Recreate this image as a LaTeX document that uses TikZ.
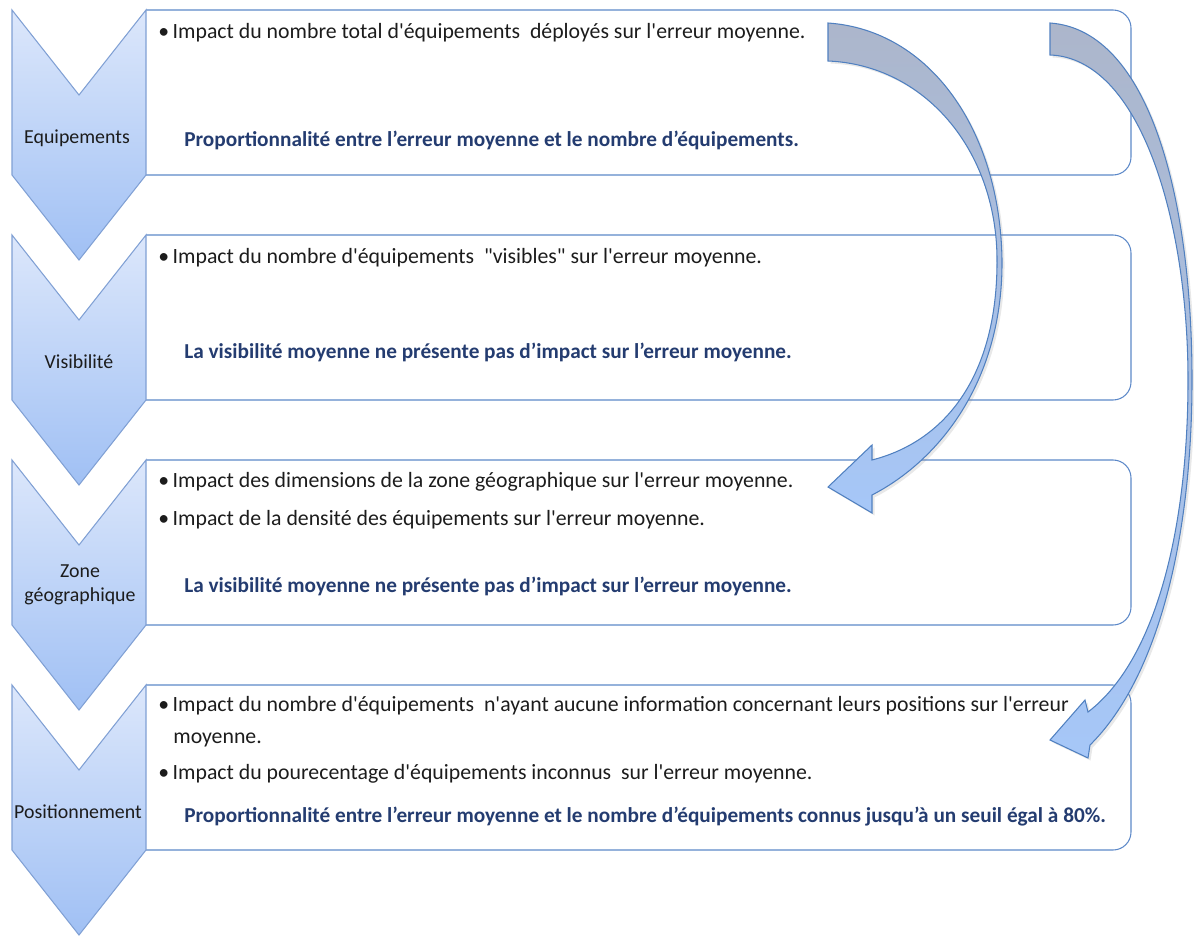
\documentclass[tikz,border=0pt]{standalone}
\usepackage{fontspec}
\setmainfont{Carlito}[Ligatures=TeXOff]
\usetikzlibrary{shadows}

\definecolor{chevtop}{RGB}{220,231,251}
\definecolor{chevbot}{RGB}{160,192,244}
\definecolor{chevline}{RGB}{128,160,212}
\definecolor{panelline}{RGB}{92,136,200}
\definecolor{bendtop}{RGB}{172,182,203}
\definecolor{bendbot}{RGB}{166,199,248}
\definecolor{bendline}{RGB}{80,128,192}
\definecolor{ink}{RGB}{28,28,28}
\definecolor{navy}{RGB}{36,60,112}

\begin{document}
\begin{tikzpicture}[line join=miter,
    every node/.style={inner sep=0pt, text=ink},
    chevron/.style={draw=chevline, line width=0.6pt, top color=chevtop, bottom color=chevbot},
    panel/.style={draw=panelline, line width=0.6pt, rounded corners=0.36cm},
    bendarrow/.style={draw=bendline, line width=0.6pt, top color=bendtop, bottom color=bendbot,
        drop shadow={opacity=0.18, shadow xshift=0.05cm, shadow yshift=-0.05cm}},
    stage/.style={font=\fontsize{11.3}{13.6}\selectfont, align=center},
    point/.style={font=\fontsize{12.4}{15}\selectfont, anchor=west},
    finding/.style={font=\fontsize{12.1}{15}\selectfont\bfseries, text=navy, anchor=west}]
    \useasboundingbox (0,0) rectangle (23.88,18.72);

    % panels, open on the left where the chevrons sit
    \draw[panel] (2.92,15.22) -- (22.62,15.22) -- (22.62,18.52) -- (2.92,18.52);
    \draw[panel] (2.92,10.72) -- (22.62,10.72) -- (22.62,14.02) -- (2.92,14.02);
    \draw[panel] (2.92,6.22) -- (22.62,6.22) -- (22.62,9.52) -- (2.92,9.52);
    \draw[panel] (2.92,1.72) -- (22.62,1.72) -- (22.62,5.02) -- (2.92,5.02);

    % chevrons
    \draw[chevron] (0.24,18.52) -- (1.58,16.82) -- (2.92,18.52) -- (2.92,15.22) -- (1.58,13.52) -- (0.24,15.22) -- cycle;
    \draw[chevron] (0.24,14.02) -- (1.58,12.32) -- (2.92,14.02) -- (2.92,10.72) -- (1.58,9.02) -- (0.24,10.72) -- cycle;
    \draw[chevron] (0.24,9.52) -- (1.58,7.82) -- (2.92,9.52) -- (2.92,6.22) -- (1.58,4.52) -- (0.24,6.22) -- cycle;
    \draw[chevron] (0.24,5.02) -- (1.58,3.32) -- (2.92,5.02) -- (2.92,1.72) -- (1.58,0.02) -- (0.24,1.72) -- cycle;

    \node[stage] (equip) at (1.54,15.96) {Equipements};
    \node[stage] (visib) at (1.58,11.48) {Visibilité};
    \node[stage] (zone) at (1.60,7.02) {Zone\\géographique};
    \node[stage] (posit) at (1.56,2.48) {Positionnement};

    % panel texts
    \node[point] (p1) at (3.16,18.06) {•\hspace{2pt}Impact du nombre total d'équipements~ déployés sur l'erreur moyenne.};
    \node[finding] (f1) at (3.68,15.92) {Proportionnalité entre l’erreur moyenne et le nombre d’équipements.};

    \node[point] (p2) at (3.16,13.56) {•\hspace{2pt}Impact du nombre d'équipements~ "visibles" sur l'erreur moyenne.};
    \node[finding] (f2) at (3.68,11.68) {La visibilité moyenne ne présente pas d’impact sur l’erreur moyenne.};

    \node[point] (p3) at (3.16,9.08) {•\hspace{2pt}Impact des dimensions de la zone géographique sur l'erreur moyenne.};
    \node[point] (p4) at (3.16,8.32) {•\hspace{2pt}Impact de la densité des équipements sur l'erreur moyenne.};
    \node[finding] (f3) at (3.68,7.00) {La visibilité moyenne ne présente pas d’impact sur l’erreur moyenne.};

    \node[point] (p5) at (3.16,4.60) {•\hspace{2pt}Impact du nombre d'équipements~ n'ayant aucune information concernant leurs positions sur l'erreur};
    \node[point] (p5b) at (3.46,3.92) {moyenne.};
    \node[point] (p6) at (3.16,3.24) {•\hspace{2pt}Impact du pourecentage d'équipements inconnus~ sur l'erreur moyenne.};
    \node[finding] (f4) at (3.68,2.38) {Proportionnalité entre l’erreur moyenne et le nombre d’équipements connus jusqu’à un seuil égal à 80\%.};

    % curved arrows from the first panel down to the third and fourth
    \coordinate (tailA) at (16.56,18.26);
    \coordinate (tipA) at (16.56,8.98);
    \coordinate (tailB) at (21.00,18.26);
    \coordinate (tipB) at (21.00,3.92);

    \draw[bendarrow] (tailA) .. controls (18.60,18.12) and (20.00,16.12) .. (20.04,13.52)
        .. controls (20.06,11.12) and (18.80,9.52) .. (17.44,8.82)
        -- (17.44,8.46) -- (tipA) -- (17.44,9.82) -- (17.44,9.52)
        .. controls (19.00,9.92) and (19.96,11.32) .. (19.94,13.56)
        .. controls (19.92,15.72) and (18.50,17.42) .. (16.56,17.50) -- cycle;

    \draw[bendarrow] (tailB) .. controls (23.00,18.12) and (23.84,14.72) .. (23.84,11.12)
        .. controls (23.84,7.80) and (23.10,5.10) .. (21.80,3.82)
        -- (21.76,3.56) -- (tipB) -- (21.70,4.72) -- (21.76,4.48)
        .. controls (23.10,5.50) and (23.76,8.10) .. (23.76,11.12)
        .. controls (23.76,14.32) and (22.80,17.56) .. (21.00,17.62) -- cycle;
\end{tikzpicture}
\end{document}
